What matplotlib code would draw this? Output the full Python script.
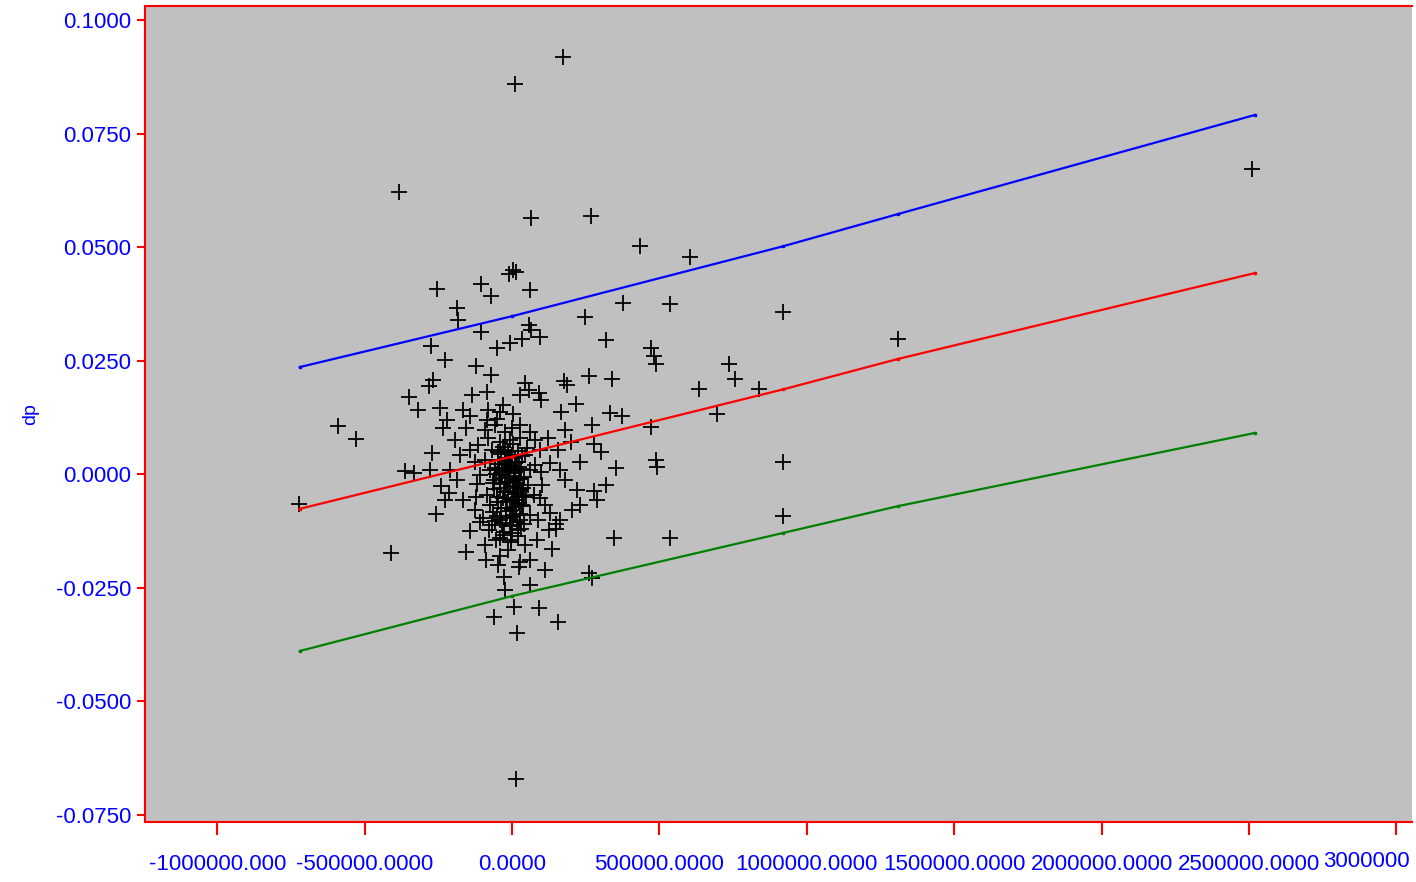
import matplotlib.pyplot as plt
import numpy as np

plt.rcParams['font.family'] = ['Liberation Sans', 'DejaVu Sans']

# data: scatter of dp against x
x = [173000, 10000, -383000, 2510000, 64000, 268000, 434000, 604000, 3000, -10000,
     14000, -105000, -254000, -71000, 61000, 376000, 536000, -187000, -183000, 248000,
     58000, 64000, 919000, 1309000, 319000, -105000, 34000, 95000, -51000, -275000,
     -7000, 471000, 482000, 488000, -227000, -122000, -71000, 176000, 187000, 261000,
     339000, -268000, -282000, -349000, 44000, 58000, -85000, 92000, 98000, 634000,
     736000, 756000, 838000, 695000, 217000, 166000, 373000, 332000, 471000, -319000,
     -244000, -220000, -166000, -234000, -156000, -590000, -529000, -81000, -41000, 3000,
     -51000, -92000, 27000, 61000, 122000, 180000, 200000, 271000, 278000, 302000,
     231000, 353000, 488000, 492000, 919000, 919000, 536000, 346000, 261000, 271000,
     156000, 92000, 7000, 17000, -61000, 14000, -410000, -156000, -722000, -363000,
     -332000, -271000, -278000, -258000, -227000, -214000, -187000, -241000, -119000, -122000,
     -166000, 129000, 149000, 149000, 220000, 278000, 288000, 319000, 136000, 27000,
     24000, -27000, 61000, -92000, -41000, -78000, -142000, -98000, 95000, 98000,
     129000, 78000, 180000, 163000, 27000, 51000, -24000, 0, -47000, -14000,
     10000, -34000, -61000, -7000, 20000, -24000, -51000, 0, 34000, -20000,
     -64000, 10000, -41000, -7000, 20000, -31000, -3000, -54000, 44000, -14000,
     -75000, -85000, -75000, -92000, -68000, -41000, -7000, 44000, 61000, 54000,
     75000, 61000, 88000, 112000, 102000, 27000, -41000, -17000, 17000, -58000,
     -109000, -126000, -142000, -115000, -81000, -58000, -24000, 0, -126000, -109000,
     -68000, 10000, 41000, 0, -31000, -7000, -24000, 10000, -47000, -85000,
     -142000, -193000, -176000, -210000, 27000, -31000, -136000, 112000, 61000, -47000,
     -24000, 125000, 163000, 204000, 231000, 27000, 85000, -88000, 95000, 78000,
     156000,
     # dense core
     -30000, -15000, 5000, 20000, 35000, -45000, -25000, -5000, 15000, 30000,
     -55000, -35000, -10000, 8000, 25000, 40000, -40000, -20000, 2000, 18000,
     -60000, -28000, -12000, 12000, 32000, 48000, -48000, -18000, 6000, 22000,
     -38000, -8000, 14000, 38000, -52000, -22000, 4000, 28000, -33000, -2000,
     16000, 42000, -66000, -44000, -16000, 9000, 24000, -36000, -6000, 19000,
     -26000, 1000, 31000, -58000, -13000, 11000, 36000, -42000, -4000, 21000]
dp = [0.0919, 0.0859, 0.0621, 0.0672, 0.0564, 0.0568, 0.0502, 0.0478, 0.0449, 0.0441,
      0.0445, 0.0419, 0.0408, 0.0393, 0.0406, 0.0377, 0.0375, 0.0366, 0.0339, 0.0346,
      0.0329, 0.0318, 0.0357, 0.0298, 0.0296, 0.0313, 0.0298, 0.0302, 0.0278, 0.0283,
      0.0289, 0.0278, 0.0261, 0.0243, 0.0252, 0.0238, 0.0219, 0.0206, 0.0197, 0.0217,
      0.0210, 0.0208, 0.0195, 0.0170, 0.0201, 0.0186, 0.0181, 0.0179, 0.0164, 0.0188,
      0.0243, 0.0210, 0.0188, 0.0133, 0.0155, 0.0137, 0.0128, 0.0135, 0.0104, 0.0142,
      0.0146, 0.0120, 0.0142, 0.0102, 0.0102, 0.0106, 0.0078, 0.0142, 0.0137, 0.0133,
      0.0122, 0.0098, 0.0109, 0.0093, 0.0080, 0.0098, 0.0071, 0.0109, 0.0067, 0.0049,
      0.0027, 0.0014, 0.0031, 0.0016, 0.0027, -0.0092, -0.0140, -0.0140, -0.0217, -0.0228,
      -0.0325, -0.0294, -0.0292, -0.0349, -0.0314, -0.0670, -0.0173, -0.0171, -0.0065, 0.0007,
      0.0003, 0.0047, 0.0009, -0.0088, -0.0057, -0.0041, -0.0013, -0.0026, -0.0021, -0.0050,
      -0.0057, -0.0085, -0.0110, -0.0121, -0.0034, -0.0037, -0.0057, -0.0024, -0.0165, -0.0193,
      -0.0204, -0.0226, -0.0244, -0.0156, -0.0180, -0.0123, -0.0125, -0.0096, -0.0052, 0.0005,
      0.0025, 0.0020, -0.0013, 0.0009, 0.0080, 0.0058, 0.0054, 0.0042, 0.0031, 0.0020,
      0.0009, -0.0002, -0.0013, -0.0017, -0.0030, -0.0039, -0.0050, -0.0057, -0.0068, -0.0074,
      -0.0083, -0.0090, -0.0101, -0.0112, -0.0123, -0.0134, -0.0145, -0.0145, -0.0156, -0.0167,
      -0.0068, -0.0046, 0.0009, 0.0031, 0.0054, 0.0071, 0.0076, 0.0042, 0.0009, -0.0024,
      -0.0046, -0.0090, -0.0101, -0.0068, -0.0024, -0.0008, -0.0030, 0.0036, 0.0027, 0.0014,
      -0.0002, 0.0027, 0.0054, 0.0065, 0.0080, 0.0109, 0.0093, 0.0102, -0.0079, -0.0105,
      -0.0112, -0.0039, -0.0050, -0.0079, -0.0052, 0.0009, -0.0008, 0.0036, 0.0049, 0.0120,
      0.0128, 0.0075, 0.0042, 0.0009, 0.0175, 0.0153, 0.0175, -0.0210, -0.0188, -0.0199,
      -0.0254, -0.0123, -0.0101, -0.0079, -0.0068, -0.0101, -0.0145, -0.0188, 0.0054, 0.0076,
      0.0054,
      # dense core
      0.0060, 0.0048, 0.0066, 0.0052, 0.0040, 0.0022, 0.0030, 0.0018, 0.0028, 0.0012,
      0.0000, 0.0006, -0.0004, 0.0002, -0.0010, -0.0006, -0.0022, -0.0016, -0.0026, -0.0020,
      -0.0032, -0.0040, -0.0036, -0.0044, -0.0034, -0.0048, -0.0060, -0.0062, -0.0056, -0.0064,
      -0.0074, -0.0080, -0.0072, -0.0070, -0.0092, -0.0096, -0.0094, -0.0088, -0.0108, -0.0114,
      -0.0106, -0.0110, -0.0020, 0.0010, 0.0014, -0.0012, 0.0016, 0.0044, 0.0036, -0.0050,
      -0.0128, -0.0130, -0.0120, -0.0102, 0.0024, 0.0004, -0.0030, -0.0140, -0.0150, -0.0136]

# regression line and prediction limits
line_x = [-720000, 0, 920000, 1310000, 2520000]
fit = [-0.0076, 0.0039, 0.0187, 0.0254, 0.0443]
upper = [0.0236, 0.0348, 0.0502, 0.0573, 0.0791]
lower = [-0.0389, -0.0268, -0.0129, -0.0070, 0.0091]

xticks = [-1000000, -500000, 0, 500000, 1000000, 1500000, 2000000, 2500000, 3000000]
xlabels = ['-1000000.000', '-500000.0000', '0.0000', '500000.0000', '1000000.0000',
           '1500000.0000', '2000000.0000', '2500000.0000', '']
last_xlabel = '3000000'
yticks = [-0.075, -0.05, -0.025, 0.0, 0.025, 0.05, 0.075, 0.1]

fig = plt.figure(figsize=(14.16, 8.82), dpi=100)
ax = fig.add_axes([0.1024, 0.068, 0.8948, 0.9252])
ax.set_facecolor('#c0c0c0')

ax.plot(x, dp, '+', color='black', markersize=11, markeredgewidth=1.3, zorder=2)
ax.plot(line_x, upper, '-s', color='blue', lw=1.6, markersize=2, zorder=3)
ax.plot(line_x, fit, '-s', color='red', lw=1.6, markersize=2, zorder=3)
ax.plot(line_x, lower, '-s', color='green', lw=1.6, markersize=2, zorder=3)

ax.set_xlim(-1245000, 3053000)
ax.set_ylim(-0.07654, 0.10308)
ax.set_xticks(xticks)
ax.set_xticklabels(xlabels)
ax.set_yticks(yticks)
ax.set_yticklabels(['%.4f' % v for v in yticks])

for s in ['top', 'left', 'bottom']:
    ax.spines[s].set_color('red')
    ax.spines[s].set_linewidth(1.5)
ax.spines['right'].set_visible(False)

ax.tick_params(axis='x', colors='red', labelcolor='blue', length=9, width=1.5,
               pad=14, labelsize=16)
ax.tick_params(axis='y', colors='red', labelcolor='blue', length=6, width=1.5,
               pad=4, labelsize=16)
# last x label squeezed against the right edge, as in the reference
fig.text(0.9958, 0.0227, last_xlabel, color='blue', fontsize=16,
         ha='right', va='center')
ax.set_ylabel('dp', color='blue', fontsize=14, labelpad=12)

plt.savefig('out.png', dpi=100)
